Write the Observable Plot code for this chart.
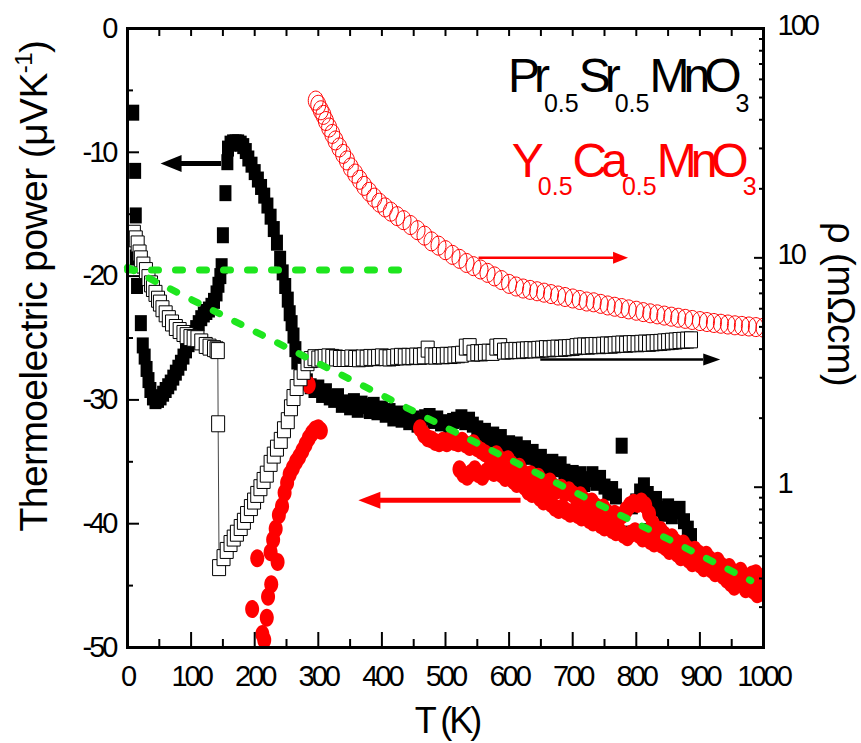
<!DOCTYPE html>
<html><head><meta charset="utf-8">
<script src="https://cdn.jsdelivr.net/npm/d3@7"></script>
<script src="https://cdn.jsdelivr.net/npm/@observablehq/plot@0.6"></script>
<style>
html,body{margin:0;padding:0;background:#fff;}
#chart{width:861px;height:743px;}
</style></head><body><div id="chart"></div>
<script>
// ---------------- DATA ----------------
// Pr0.5Sr0.5MnO3 thermoelectric power (filled black squares), T in K, S in µV/K
const psmoS_T = [9,12,13,13,15,21,24,27,30,33,36,40,44,48,52,56,60,64,68,72,76,80,84,88,92,96,100,104,108,112,116,120,124,128,132,136,140,143,146,148,150,154,157,158,162,166,170,174,178,182,186,190,195,200,205,210,215,220,225,230,235,240,244,248,252,255,258,261,264,267,271,276,282,288,294,
300,306,312,318,325,331,337,343,350,356,362,368,375,381,387,393,400,406,412,418,425,431,437,443,450,456,462,468,475,481,487,493,500,506,512,518,525,531,537,543,550,556,562,568,575,581,587,593,600,606,612,618,625,631,637,643,650,656,662,668,675,681,687,693,700,706,712,718,725,731,737,743,750,756,762,768,777,785,793,800,806,812,815,818,825,831,837,843,850,856,862,868,875,881,886];
const psmoS_S = [-6.8,-11.5,-15.1,-18.5,-20.8,-23.8,-25.6,-26.5,-27.5,-28.4,-29.2,-29.8,-30.1,-30.0,-29.8,-29.5,-29.2,-28.9,-28.6,-28.2,-27.8,-27.4,-27.0,-26.5,-26.0,-25.5,-25.0,-24.6,-24.2,-23.8,-23.4,-23.1,-22.9,-22.7,-22.4,-22.0,-21.4,-20.7,-20.0,-19.2,-16.7,-13.3,-10.8,-9.7,-9.3,-9.2,-9.2,-9.2,-9.3,-9.5,-9.9,-10.5,-11.0,-11.6,-12.2,-12.8,-13.5,-14.3,-15.2,-16.2,-17.3,-18.6,-19.7,-20.8,-21.9,-23.0,-23.8,-24.8,-25.9,-26.9,-27.6,-28.1,-28.5,-28.9,-29.2,
-29.0,-29.6,-29.3,-29.8,-30.0,-29.7,-30.4,-30.2,-30.6,-30.1,-30.8,-30.3,-30.5,-30.9,-30.4,-31.0,-30.7,-31.2,-30.9,-31.5,-31.1,-31.6,-31.3,-31.8,-31.5,-32.0,-31.7,-31.4,-31.3,-31.7,-31.5,-31.9,-31.8,-32.1,-31.7,-31.6,-31.4,-31.8,-31.6,-32.0,-32.3,-32.9,-32.5,-33.2,-32.8,-33.4,-33.0,-33.7,-33.5,-34.0,-33.6,-34.3,-33.9,-34.6,-34.2,-34.9,-34.6,-35.1,-35.4,-35.0,-35.6,-35.2,-35.8,-36.3,-35.9,-36.5,-36.0,-36.8,-36.4,-36.0,-36.7,-36.3,-37.0,-37.5,-37.2,-37.8,-33.7,-40.8,-38.6,-38.2,-37.4,-36.9,-40.6,-37.6,-38.4,-38.0,-38.8,-39.2,-38.6,-39.4,-39.0,-38.8,-39.8,-40.4,-41.0];

// Y0.5Ca0.5MnO3 thermoelectric power (filled red circles)
const ycmoS_T = [196,204,212,215,219,221,226,225,236,229,233,238,243,247,251,255,260,265,270,275,280,285,290,295,300,304,285,
460,466,472,478,484,490,496,502,508,514,520,526,532,538,544,550,556,562,568,574,580,586,592,598,604,610,616,622,628,634,640,646,652,658,664,670,676,682,688,694,700,706,712,718,724,730,736,742,748,754,760,766,772,778,784,790,796,802,808,814,820,826,832,838,844,850,856,862,868,874,880,886,892,898,904,910,916,922,928,934,940,946,952,958,964,970,976,982,988,994,1000,
522,528,534,540,546,552,558,564,570,576,582,588,594,600,606,612,618,624,630,636,642,648,654,660,666,672,678,684,690,696,702,708,714,720,726,732,738,744,750,756,762,768,774,780,786,792,798,804,810,816,822,828,834,840,846,852,858,864,870,876,882,888,894,900,906,912,918,924,930,936,942,948,954,960,966,972,978,984,990,996,1000];
const ycmoS_S = [-46.9,-42.8,-48.9,-49.4,-47.6,-45.9,-44.9,-42.3,-43.1,-41.3,-40.4,-39.3,-38.6,-37.5,-36.7,-36.0,-35.5,-35.0,-34.6,-34.1,-33.6,-33.1,-32.7,-32.4,-32.3,-32.5,-28.8,
-32.3,-32.8,-33.1,-33.2,-33.4,-33.5,-33.3,-33.5,-33.2,-33.4,-33.5,-33.3,-33.6,-33.8,-33.5,-33.9,-34.1,-34.3,-34.5,-34.6,-34.4,-34.8,-35.1,-34.8,-35.2,-35.6,-35.4,-35.9,-36.2,-36.0,-36.4,-36.2,-36.6,-36.9,-36.6,-37.0,-37.3,-37.1,-37.5,-37.3,-37.6,-37.9,-37.7,-38.1,-38.4,-38.2,-38.6,-38.9,-38.7,-39.1,-39.4,-39.2,-39.6,-39.3,-38.9,-38.5,-38.3,-38.4,-38.2,-38.5,-39.2,-40.0,-40.6,-40.5,-40.9,-41.2,-41.1,-41.5,-41.8,-41.6,-42.0,-42.3,-42.1,-42.4,-42.7,-42.5,-42.9,-43.2,-43.0,-43.4,-43.6,-43.5,-43.9,-44.1,-43.8,-44.2,-44.4,-44.1,-44.0,-44.3,-44.6,
-35.6,-36.0,-36.2,-35.9,-35.6,-36.0,-36.2,-35.8,-35.5,-35.9,-35.6,-36.0,-36.3,-36.1,-36.5,-36.8,-36.6,-37.0,-37.4,-37.6,-37.5,-37.9,-38.2,-38.0,-38.4,-38.7,-38.9,-38.7,-39.0,-39.2,-39.0,-39.3,-39.5,-39.3,-39.7,-39.9,-39.7,-40.1,-40.3,-40.1,-40.5,-40.7,-40.6,-40.9,-41.1,-40.8,-40.6,-40.9,-41.2,-41.0,-41.4,-41.6,-41.3,-41.7,-41.9,-42.2,-42.0,-42.4,-42.7,-42.5,-42.9,-43.2,-43.0,-43.3,-43.6,-43.4,-43.7,-44.0,-43.8,-44.2,-44.5,-44.8,-45.1,-44.7,-44.9,-45.3,-45.0,-45.4,-45.7,-45.3,-45.6];

// Pr0.5Sr0.5MnO3 resistivity (open black squares), rho in mOhm cm
const psmoRho_T = [10,13,16,19,21,25,29,33,37,40,44,48,51,55,60,65,70,76,82,88,93,99,104,110,116,123,129,136,140,142,142.5,144,151,156,162,167,172,178,183,188,194,199,204,209,214,219,225,230,235,241,246,252,257,261,266,272,277,283,288,294,
300,305,310,316,322,328,334,340,346,352,358,364,370,376,382,388,394,400,406,412,418,424,430,436,442,448,454,460,466,472,478,484,490,496,502,508,514,520,526,532,538,544,550,556,562,568,574,580,586,592,598,604,610,616,622,628,634,640,646,652,658,664,670,676,682,688,694,700,706,712,718,724,730,736,742,748,754,760,766,772,778,784,790,796,802,808,814,820,826,832,838,844,850,856,862,868,874,880,886];
const psmoRho_R = [12.8,12.1,11.5,10.5,9.9,9.3,8.8,8.2,7.7,7.35,7.0,6.6,6.35,6.0,5.7,5.43,5.2,4.97,4.82,4.68,4.58,4.49,4.46,4.44,4.3,4.15,4.08,4.02,3.97,3.94,1.89,0.446,0.493,0.53,0.568,0.60,0.63,0.667,0.71,0.76,0.815,0.87,0.93,0.995,1.07,1.14,1.27,1.38,1.48,1.6,1.78,1.95,2.22,2.46,2.72,3.0,3.2,3.49,3.6,3.67,
3.62,3.66,3.68,3.70,3.68,3.66,3.64,3.64,3.64,3.66,3.64,3.63,3.66,3.65,3.68,3.67,3.68,3.70,3.67,3.66,3.68,3.70,3.72,3.70,3.72,3.71,3.73,3.72,3.74,4.00,3.74,3.73,3.75,3.74,3.76,3.75,3.77,3.78,3.80,4.08,4.10,3.84,3.86,3.85,3.87,3.88,3.87,4.08,4.10,3.92,3.93,3.94,3.95,3.94,3.96,3.97,3.98,3.97,3.99,4.00,4.02,4.01,4.03,4.04,4.03,4.05,4.06,4.07,4.10,4.12,4.13,4.12,4.14,4.15,4.14,4.16,4.17,4.16,4.18,4.20,4.21,4.20,4.22,4.23,4.22,4.24,4.25,4.24,4.26,4.27,4.28,4.30,4.31,4.33,4.34,4.36,4.37,4.38,4.39];

// Y0.5Ca0.5MnO3 resistivity (open red circles)
const ycmoRho_T = [296,300,304,308,312,317,322,327,333,339,345,351,358,365,372,380,388,396,405,414,424,434,445,456,467,478,489,500,511,522,533,544,555,566,577,588,600,611,622,633,644,655,666,677,688,700,711,722,733,744,755,766,777,788,800,811,822,833,844,855,866,877,888,900,911,922,933,944,955,966,977,988,1000];
const ycmoRho_R = [48.5,46.5,44,42,39.5,37,34.7,32.5,30.3,28.4,26.6,24.8,23.3,21.9,20.6,19.4,18.3,17.4,16.6,15.9,15.2,14.6,13.9,13.2,12.5,11.8,11.3,10.8,10.3,9.9,9.5,9.2,8.9,8.6,8.3,8.0,7.7,7.5,7.35,7.25,7.15,7.05,6.95,6.85,6.75,6.65,6.55,6.45,6.4,6.3,6.2,6.12,6.04,5.96,5.88,5.8,5.73,5.67,5.6,5.54,5.48,5.42,5.36,5.3,5.25,5.2,5.16,5.12,5.08,5.05,5.02,4.99,4.96];

// green dashed guide lines (left axis)
const greenFlat_T = [0, 450];
const greenFlat_S = [-19.5, -19.5];
const greenSlope_T = [0, 980];
const greenSlope_S = [-19.3, -44.6];

// arrows: left-axis arrows (point left) and right-axis arrows (point right)
const arrowsS = [
  {tail: 147, base: 84, tip: 52, S: -10.9, color: "black"},
  {tail: 618, base: 396, tip: 363, S: -38.1, color: "#ff0000"}
];
const arrowsRho = [
  {tail: 552, base: 764, tip: 787, rho: 10, color: "#ff0000"},
  {tail: 649, base: 905, tip: 932, rho: 3.6, color: "black"}
];

// ticks
const xMajor = [0,100,200,300,400,500,600,700,800,900,1000];
const xMinor = [50,150,250,350,450,550,650,750,850,950];
const yMajor = [-50,-40,-30,-20,-10,0];
const yMinor = [-45,-35,-25,-15,-5];
const rhoMajor = [1, 10, 100];
const rhoMajorLabels = ["1", "10", "100"];
const rhoMinor = [0.3,0.4,0.5,0.6,0.7,0.8,0.9,2,3,4,5,6,7,8,9,20,30,40,50,60,70,80,90];

// compound labels: [text, isSubscript]
const labelPSMO = [["Pr",0],["0.5",1],["Sr",0],["0.5",1],["MnO",0],["3",1]];
const labelYCMO = [["Y",0],["0.5",1],["Ca",0],["0.5",1],["MnO",0],["3",1]];
const labelPos = {psmo: {T: 599, S: -5.17}, ycmo: {T: 605, S: -12.04}};

// ---------------- CHART ----------------
const FONT = "'Liberation Sans', Arial, Helvetica, sans-serif";
const GREEN = "#1ee61e";
const rows = (T, V) => T.map((t, i) => ({T: t, v: V[i]}));
const psmoS = rows(psmoS_T, psmoS_S);
const ycmoS = rows(ycmoS_T, ycmoS_S);
const psmoR = rows(psmoRho_T, psmoRho_R);
const ycmoR = rows(ycmoRho_T, ycmoRho_R);
const greenFlat = rows(greenFlat_T, greenFlat_S);
const greenSlope = rows(greenSlope_T, greenSlope_S);

// log scale for resistivity mapped onto the thermopower range (right axis)
let r2s;
try {
  const rs = Plot.scale({y: {type: "log", domain: [0.2, 100], range: [-50, 0]}});
  r2s = rs.apply ? (v) => rs.apply(v) : d3.scaleLog([0.2, 100], [-50, 0]);
} catch (e) { r2s = d3.scaleLog([0.2, 100], [-50, 0]); }
const rhoLabel = new Map(rhoMajor.map((r, i) => [r2s(r), rhoMajorLabels[i]]));

const rectSym = (w, h) => ({draw(ctx) { ctx.rect(-w / 2, -h / 2, w, h); }});
const ellSym = (w, h) => ({draw(ctx) {
  const rx = w / 2, ry = h / 2, k = 0.5523;
  ctx.moveTo(rx, 0);
  ctx.bezierCurveTo(rx, k * ry, k * rx, ry, 0, ry);
  ctx.bezierCurveTo(-k * rx, ry, -rx, k * ry, -rx, 0);
  ctx.bezierCurveTo(-rx, -k * ry, -k * rx, -ry, 0, -ry);
  ctx.bezierCurveTo(k * rx, -ry, rx, -k * ry, rx, 0);
  ctx.closePath();
}});
const headSym = (len, hgt, dir) => ({draw(ctx) {
  ctx.moveTo(0, 0); ctx.lineTo(-dir * len, -hgt / 2); ctx.lineTo(-dir * len, hgt / 2); ctx.closePath();
}});

const arrowMarks = [
  ...arrowsS.flatMap((a, i) => [
    Plot.link([a], {x1: "tail", x2: "base", y1: "S", y2: "S", stroke: a.color, strokeWidth: 5}),
    Plot.dot([a], {x: "tip", y: "S", symbol: headSym(i === 0 ? 21 : 22, 17, -1), fill: a.color, stroke: "none"})
  ]),
  ...arrowsRho.flatMap((a, i) => [
    Plot.link([a], {x1: "tail", x2: "base", y1: (d) => r2s(d.rho), y2: (d) => r2s(d.rho), stroke: a.color, strokeWidth: 2.5}),
    Plot.dot([a], {x: "tip", y: (d) => r2s(d.rho), symbol: headSym(i === 0 ? 15 : 17, 12, 1), fill: a.color, stroke: "none"})
  ])
];

const tickStyle = {strokeWidth: 2, fill: "none", label: null};
const plot = Plot.plot({
  width: 861, height: 743,
  marginLeft: 127, marginRight: 98, marginTop: 28, marginBottom: 96,
  style: {fontFamily: FONT, background: "white", color: "black"},
  x: {domain: [0, 1000]},
  y: {domain: [-50, 0]},
  marks: [
    Plot.dot(psmoS, {x: "T", y: "v", symbol: rectSym(12, 16), fill: "black", stroke: "none", clip: true}),
    Plot.dot(ycmoS, {x: "T", y: "v", symbol: ellSym(14, 18), fill: "#ff0000", stroke: "none", clip: true}),
    Plot.line(psmoR, {x: "T", y: (d) => r2s(d.v), stroke: "#444", strokeWidth: 1, clip: true}),
    Plot.dot(psmoR, {x: "T", y: (d) => r2s(d.v), symbol: rectSym(13, 16), fill: "white", stroke: "black", strokeWidth: 1, clip: true}),
    Plot.dot(ycmoR, {x: "T", y: (d) => r2s(d.v), symbol: ellSym(15, 19), fill: "none", stroke: "#ff0000", strokeWidth: 1, clip: true}),
    Plot.line(greenFlat, {x: "T", y: "v", stroke: GREEN, strokeWidth: 7, strokeDasharray: "7,17", strokeLinecap: "round"}),
    Plot.line(greenSlope, {x: "T", y: "v", stroke: GREEN, strokeWidth: 7, strokeDasharray: "7,17", strokeLinecap: "round"}),
    ...arrowMarks,
    Plot.axisX(xMajor, {anchor: "bottom", tickSize: 0, tickPadding: 18, fontSize: 29, tickFormat: (d) => String(d), label: null}),
    Plot.axisX(xMajor, {anchor: "bottom", tickSize: -15, ...tickStyle}),
    Plot.axisX(xMinor, {anchor: "bottom", tickSize: -8, ...tickStyle}),
    Plot.axisX(xMajor.concat(xMinor), {anchor: "top", tickSize: -7, ...tickStyle}),
    Plot.axisY(yMajor, {anchor: "left", tickSize: 0, tickPadding: 12, fontSize: 29, tickFormat: (d) => String(d), label: null}),
    Plot.axisY(yMajor, {anchor: "left", tickSize: -12, ...tickStyle}),
    Plot.axisY(yMinor, {anchor: "left", tickSize: -6, ...tickStyle}),
    Plot.axisY(rhoMajor.map(r2s), {anchor: "right", tickSize: 0, tickPadding: 14, dy: -3, fontSize: 29, tickFormat: (d) => rhoLabel.get(d), label: null}),
    Plot.axisY(rhoMajor.map(r2s), {anchor: "right", tickSize: -10, ...tickStyle}),
    Plot.axisY(rhoMinor.map(r2s), {anchor: "right", tickSize: -5, ...tickStyle}),
    Plot.frame({stroke: "black", strokeWidth: 3})
  ]
});
document.getElementById("chart").append(plot);

// ---------------- TEXT (titles, formulas) ----------------
const svg = d3.select(plot);
svg.selectAll('g[aria-label="x-axis tick label"], g[aria-label="y-axis tick label"]').style("letter-spacing", "-3px");
const sx = plot.scale("x"), sy = plot.scale("y");
const X = sx.apply ? (v) => sx.apply(v) : d3.scaleLinear(sx.domain, sx.range);
const Y = sy.apply ? (v) => sy.apply(v) : d3.scaleLinear(sy.domain, sy.range);

function formula(parts, pos, color, shift) {
  const t = svg.append("text").attr("x", X(pos.T)).attr("y", Y(pos.S))
    .attr("text-anchor", "start").attr("fill", color).attr("font-family", FONT);
  let prevSub = false;
  for (const [s, isSub] of parts) {
    const ts = t.append("tspan").text(s);
    if (isSub) ts.attr("font-size", 25).attr("dy", shift).style("letter-spacing", "0px");
    else ts.attr("font-size", 48).attr("dy", prevSub ? -shift : 0).style("letter-spacing", "-6px");
    prevSub = !!isSub;
  }
}
formula(labelPSMO, labelPos.psmo, "black", 20);
formula(labelYCMO, labelPos.ycmo, "#ff0000", 18);

// left axis title
const lt = svg.append("text").attr("transform", "translate(47,286) rotate(-90)")
  .attr("text-anchor", "middle").attr("font-size", 39).attr("font-family", FONT)
  .style("letter-spacing", "-0.6px").attr("fill", "black");
lt.append("tspan").text("Thermoelectric power (\u03bcVK");
lt.append("tspan").attr("font-size", 24).attr("dy", -15).text("-1");
lt.append("tspan").attr("dy", 15).text(")");

// right axis title
svg.append("text").attr("transform", "translate(828,304) rotate(90)")
  .attr("text-anchor", "middle").attr("font-size", 38).attr("font-family", FONT)
  .style("letter-spacing", "-0.5px").attr("fill", "black").text("\u03c1 (m\u03a9cm)");

// bottom axis title
svg.append("text").attr("x", 447).attr("y", 733).attr("text-anchor", "middle")
  .attr("font-size", 36).attr("font-family", FONT).style("letter-spacing", "-3px")
  .attr("fill", "black").text("T (K)");
</script></body></html>
